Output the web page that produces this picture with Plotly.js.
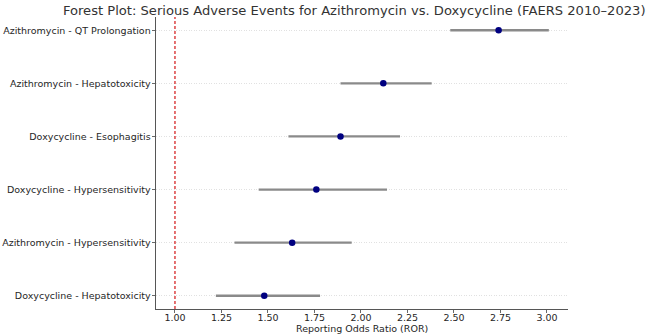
<!DOCTYPE html>
<html>
<head>
<meta charset="utf-8">
<script src="https://cdn.plot.ly/plotly-3.0.1.min.js"></script>
<style>html,body{margin:0;padding:0;background:#fff;}#chart{width:650px;height:335px;}</style>
</head>
<body>
<div id="chart"></div>
<script>
// Data (bottom to top)
const events = [
  "Doxycycline - Hepatotoxicity",
  "Azithromycin - Hypersensitivity",
  "Doxycycline - Hypersensitivity",
  "Doxycycline - Esophagitis",
  "Azithromycin - Hepatotoxicity",
  "Azithromycin - QT Prolongation"
];
const ror = [1.48, 1.63, 1.76, 1.89, 2.12, 2.74];
const ciLower = [1.22, 1.32, 1.45, 1.61, 1.89, 2.48];
const ciUpper = [1.78, 1.95, 2.14, 2.21, 2.38, 3.01];
const xTicks = [1.00, 1.25, 1.50, 1.75, 2.00, 2.25, 2.50, 2.75, 3.00];
const nullValue = 1.0;

const errPlus = ror.map((v, i) => ciUpper[i] - v);
const errMinus = ror.map((v, i) => v - ciLower[i]);

const trace = {
  type: "scatter",
  mode: "markers",
  x: ror,
  y: events,
  marker: {color: "#000080", size: 6.5},
  error_x: {
    type: "data",
    symmetric: false,
    array: errPlus,
    arrayminus: errMinus,
    color: "#8a8a8a",
    thickness: 2.3,
    width: 0
  },
  hoverinfo: "x+y"
};

const font = "DejaVu Sans, sans-serif";
const layout = {
  width: 650,
  height: 335,
  margin: {l: 156, r: 82, t: 17, b: 26},
  paper_bgcolor: "#fff",
  plot_bgcolor: "#fff",
  showlegend: false,
  font: {family: font, size: 9.5, color: "#262626"},
  title: {
    text: "Forest Plot: Serious Adverse Events for Azithromycin vs. Doxycycline (FAERS 2010–2023)",
    font: {family: font, size: 13.1, color: "#333333"},
    x: 0.545, xanchor: "center", xref: "container",
    y: 0.968, yanchor: "middle", yref: "container"
  },
  xaxis: {
    range: [0.898, 3.113],
    tickmode: "array",
    tickvals: xTicks,
    ticktext: xTicks.map(v => v.toFixed(2)),
    ticks: "",
    minor: {tickmode: "array", tickvals: xTicks, ticks: "outside", ticklen: 3.5, tickwidth: 0.8, tickcolor: "#444", showgrid: false},
    showline: true, linecolor: "#444", linewidth: 0.9,
    showgrid: false, zeroline: false,
    tickfont: {size: 9.5, color: "#262626"}
  },
  yaxis: {
    type: "category",
    categoryorder: "array",
    categoryarray: events,
    range: [-0.25, 5.25],
    ticks: "outside", ticklen: 3.5, tickwidth: 0.8, tickcolor: "#444",
    showline: true, linecolor: "#444", linewidth: 0.9,
    showgrid: true, gridcolor: "#d4d4d4", gridwidth: 0.7, griddash: "1px,1.5px",
    zeroline: false,
    tickfont: {size: 9.5, color: "#262626"},
    ticklabelstandoff: -1
  },
  annotations: [{
    text: "Reporting Odds Ratio (ROR)",
    xref: "paper", yref: "paper",
    x: 0.5, y: -0.068, xanchor: "center", yanchor: "middle",
    showarrow: false,
    font: {size: 9.5, color: "#262626"}
  }],
  shapes: [{
    type: "line", xref: "x", yref: "paper",
    x0: nullValue, x1: nullValue, y0: 0, y1: 1,
    line: {color: "#d62728", width: 1.3, dash: "3px,2px"},
    layer: "above"
  }]
};

Plotly.newPlot("chart", [trace], layout, {displayModeBar: false, staticPlot: true});
</script>
</body>
</html>
